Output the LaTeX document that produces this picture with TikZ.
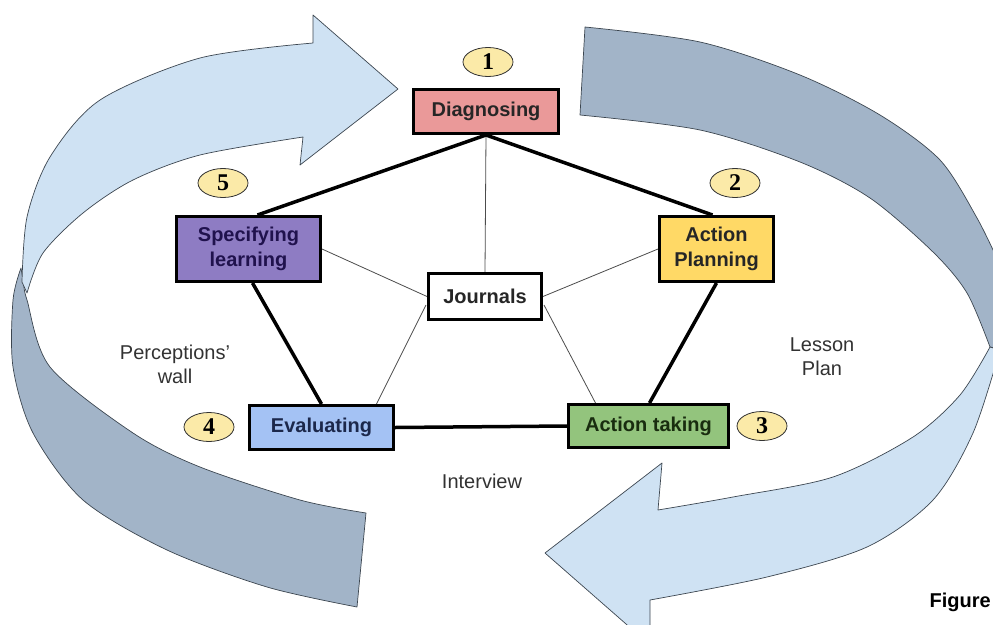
\documentclass[tikz,border=0pt]{standalone}
\usepackage{fontspec}
\setmainfont{Liberation Sans}
\newfontfamily\numfont{Liberation Serif}
\usetikzlibrary{calc,shapes.geometric}
\pgfdeclarelayer{bandlayer}
\pgfdeclarelayer{edgelayer}
\pgfsetlayers{bandlayer,edgelayer,main}
\definecolor{darkband}{RGB}{162,180,200}
\definecolor{lightband}{RGB}{207,226,243}
\definecolor{bandline}{RGB}{60,70,80}
\definecolor{diagc}{RGB}{234,153,153}
\definecolor{apc}{RGB}{255,217,102}
\definecolor{specc}{RGB}{142,124,195}
\definecolor{evalc}{RGB}{164,194,244}
\definecolor{atc}{RGB}{147,196,125}
\definecolor{numc}{RGB}{251,234,168}
\definecolor{labc}{RGB}{50,50,50}
\begin{document}
\begin{tikzpicture}[x=1pt,y=-1pt,
  darkarrow/.style={fill=darkband,draw=bandline,line width=0.7pt,line join=round},
  lightarrow/.style={fill=lightband,draw=bandline,line width=0.7pt,line join=round},
  stagebox/.style={draw=black,line width=3pt,font=\bfseries\fontsize{20}{25}\selectfont,align=center,inner sep=0pt},
  numoval/.style={ellipse,draw=black!80,line width=0.8pt,fill=numc,minimum width=50pt,minimum height=29pt,inner sep=0pt,font=\numfont\bfseries\fontsize{24}{24}\selectfont},
  thickedge/.style={line width=3.5pt,black},
  thinedge/.style={line width=0.8pt,black!70},
  lab/.style={font=\fontsize{20}{24}\selectfont,text=labc,align=center}]
\useasboundingbox (0,0) rectangle (993,624);
\clip (0,0) rectangle (993,624);
\begin{pgfonlayer}{bandlayer}
% left dark band
\path[darkarrow] plot[smooth] coordinates {(21,268) (13,300) (13,367) (33,433) (83,500) (167,550) (267,587) (357,607)}
  -- (366,513)
  -- plot[smooth] coordinates {(366,513) (300,500) (200,467) (133,433) (50,367) (27,300) (24,286)} -- cycle;
% right dark band
\path[darkarrow] plot[smooth] coordinates {(585,27) (700,42) (800,75) (880,115) (940,160) (977,218) (1000,265)}
  -- (1005,350) -- (990,347)
  -- plot[smooth] coordinates {(990,347) (967,293) (933,252) (870,198) (800,162) (700,130) (580,115)} -- cycle;
% left light arrow
\path[lightarrow] plot[smooth] coordinates {(22,282) (27,217) (50,157) (100,100) (200,58) (313,43)}
  -- (313,15) -- (398,89) -- (300,165) -- (303,137)
  -- plot[smooth] coordinates {(303,137) (200,155) (133,180) (83,213) (43,253) (27,293)} -- cycle;
% right light arrow
\path[lightarrow] plot[smooth] coordinates {(990,347) (960,395) (913,437) (833,477) (733,497) (658,510)}
  -- (662,463) -- (545,553) -- (650,645) -- (650,600)
  -- plot[smooth] coordinates {(650,600) (767,577) (867,547) (933,500) (973,433) (1000,350)} -- cycle;
\end{pgfonlayer}
% stage boxes
\node[stagebox,fill=diagc,text=black!85,minimum width=145pt,minimum height=44pt] (diag) at (486,111.5) {Diagnosing};
\node[stagebox,fill=apc,text=black!85,minimum width=114pt,minimum height=65pt] (ap) at (716.5,249) {Action\\Planning};
\node[stagebox,fill=specc,text={rgb,255:red,32;green,18;blue,77},minimum width=144pt,minimum height=65pt] (spec) at (248.5,249) {Specifying\\learning};
\node[stagebox,fill=white,text=black!85,minimum width=113pt,minimum height=46pt] (jour) at (485,296.5) {Journals};
\node[stagebox,fill=evalc,text={rgb,255:red,28;green,40;blue,75},minimum width=144pt,minimum height=44pt] (eval) at (321.5,427.5) {Evaluating};
\node[stagebox,fill=atc,text={rgb,255:red,25;green,45;blue,15},minimum width=160pt,minimum height=43pt] (at) at (648.5,426) {Action taking};
% edges
\begin{pgfonlayer}{edgelayer}
\draw[thinedge] (diag.south) -- (jour.north);
\draw[thinedge] (spec.east) -- (jour.west);
\draw[thinedge] (ap.west) -- (jour.east);
\draw[thinedge] ($(jour.south west)+(-1,-16)$) -- ($(eval.north)+(55,0)$);
\draw[thinedge] ($(jour.south east)+(1,-16)$) -- ($(at.north)+(-53,0)$);
\draw[thickedge] (diag.south) -- ($(spec.north)+(9,0)$);
\draw[thickedge] (diag.south) -- ($(ap.north)+(-4,0)$);
\draw[thickedge] (ap.south) -- ($(at.north)+(1,0)$);
\draw[thickedge] (at.west) -- (eval.east);
\draw[thickedge] (eval.north) -- ($(spec.south)+(4,0)$);
\end{pgfonlayer}
% numbers
\node[numoval] (n1) at (488,62) {1};
\node[numoval] (n2) at (735,183) {2};
\node[numoval] (n3) at (762,426) {3};
\node[numoval] (n4) at (209,427) {4};
\node[numoval] (n5) at (223,183) {5};
% labels
\node[lab] (perc) at (175,364) {Perceptions'\\wall};
\node[lab] (lesson) at (822,357) {Lesson\\Plan};
\node[lab] (inter) at (482,481) {Interview};
\node[font=\bfseries\fontsize{20}{24}\selectfont,anchor=west] (fig) at (926,602) {Figure};
\end{tikzpicture}
\end{document}
